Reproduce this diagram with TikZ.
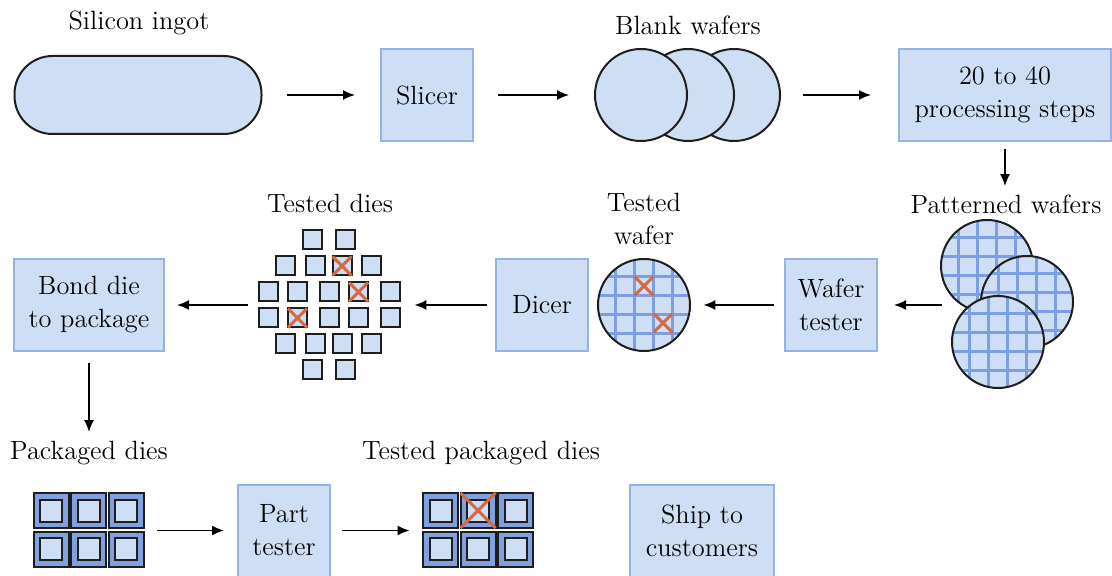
\documentclass[tikz,border=0pt]{standalone}
\usetikzlibrary{arrows.meta}
\definecolor{lightfill}{RGB}{206,222,244}
\definecolor{boxline}{RGB}{150,178,228}
\definecolor{gridblue}{RGB}{125,158,226}
\definecolor{pkgblue}{RGB}{128,160,224}
\definecolor{xred}{RGB}{215,105,65}
\definecolor{edge}{RGB}{30,30,30}
\newcommand\gridwafer[2]{%
  \begin{scope}
    \clip (#1,#2) circle [radius=23pt];
    \fill[lightfill] (#1,#2) circle [radius=23pt];
    \foreach \o in {-28.5,-9.5,9.5,28.5}{
      \draw[gridline] (#1+\o,#2-50) -- (#1+\o,#2+50);
      \draw[gridline] (#1-50,#2+\o) -- (#1+50,#2+\o);
    }
  \end{scope}
  \draw[waferline] (#1,#2) circle [radius=23pt];
}
\begin{document}
\begin{tikzpicture}[x=0.5pt,y=-0.5pt,
  every node/.style={font=\fontsize{13.2}{16.5}\selectfont, align=center, inner sep=0pt},
  pbox/.style={draw=boxline, fill=lightfill, line width=1pt, minimum width=46pt, minimum height=46pt},
  grp/.style={draw=none, fill=none},
  conn/.style={line width=0.8pt, -{Latex[length=6pt,width=5pt]}},
  gridline/.style={draw=gridblue, line width=1.6pt},
  waferline/.style={draw=edge, line width=1pt},
  die/.style={draw=edge, fill=lightfill, line width=1pt},
  pkgout/.style={draw=edge, fill=pkgblue, line width=1pt},
  xmark/.style={draw=xred, line width=1.5pt}]
\useasboundingbox (0,0) rectangle (1112,576);

% ---------- Row 1 ----------
\node (l-ingot) at (139,23) {Silicon ingot};
\node[draw=edge, fill=lightfill, line width=1pt, rounded corners=19pt,
      minimum width=123.5pt, minimum height=39pt] (ingot) at (138,95) {};
\node[pbox] (slicer) at (427,95) {Slicer};

\node[grp, minimum width=92.5pt, minimum height=47pt] (blank) at (688,95) {};
\draw[waferline, fill=lightfill] (734,95) circle [radius=23pt];
\draw[waferline, fill=lightfill] (688,95) circle [radius=23pt];
\draw[waferline, fill=lightfill] (641,95) circle [radius=23pt];
\node (l-blank) at (688,25) {Blank wafers};

\node[pbox, minimum width=106pt] (proc) at (1005,95) {20 to 40\\processing steps};

% ---------- Row 2 ----------
\node (l-pat) at (1006,204) {Patterned wafers};
\node[grp, minimum width=65.5pt, minimum height=83.5pt] (pat) at (1007.5,305) {};
\gridwafer{987}{266}
\gridwafer{1027}{302}
\gridwafer{998}{342}

\node[pbox] (wtest) at (831,305) {Wafer\\tester};

\node (l-twafer) at (644,219) {Tested\\wafer};
\node[grp, circle, minimum size=46pt] (twafer) at (644,305) {};
\gridwafer{644}{305}
\draw[xmark] (634.5,276.5) -- (653.5,295.5) (653.5,276.5) -- (634.5,295.5);
\draw[xmark] (653.5,313.5) -- (672.5,332.5) (672.5,313.5) -- (653.5,332.5);

\node[pbox] (dicer) at (542,305) {Dicer};

\node (l-tdies) at (330,203) {Tested dies};
\node[grp, minimum width=71pt, minimum height=75pt] (tdies) at (329,305) {};
\foreach \dx in {-17,16.5}{
  \draw[die] (329+\dx-9.5,240-9.5) rectangle ++(19,19);
  \draw[die] (329+\dx-9.5,370-9.5) rectangle ++(19,19);
}
\foreach \dx in {-43.5,-14,13,42.5}{
  \draw[die] (329+\dx-9.5,266-9.5) rectangle ++(19,19);
  \draw[die] (329+\dx-9.5,344-9.5) rectangle ++(19,19);
}
\foreach \dx in {-61,-31.5,0.5,29.5,61.5}{
  \draw[die] (329+\dx-9.5,292-9.5) rectangle ++(19,19);
  \draw[die] (329+\dx-9.5,318-9.5) rectangle ++(19,19);
}
\draw[xmark] (332.5,256.5) -- (351.5,275.5) (351.5,256.5) -- (332.5,275.5);
\draw[xmark] (349,282.5) -- (368,301.5) (368,282.5) -- (349,301.5);
\draw[xmark] (288,308.5) -- (307,327.5) (307,308.5) -- (288,327.5);

\node[pbox, minimum width=75pt] (bond) at (89,305) {Bond die\\to package};

% ---------- Row 3 ----------
\node (l-pack) at (89,453) {Packaged dies};
\node[grp, minimum width=55.5pt, minimum height=37pt] (pack) at (88.5,530.5) {};
\foreach \cx in {-37.5,0,37.5}{
  \foreach \cy in {-19.25,19.25}{
    \draw[pkgout] (88.5+\cx-17.5,530+\cy-17.5) rectangle ++(35,35);
    \draw[die] (88.5+\cx-11,530+\cy-11) rectangle ++(22,22);
  }
}

\node[pbox] (ptest) at (284,530.5) {Part\\tester};

\node (l-tpack) at (481,453) {Tested packaged dies};
\node[grp, minimum width=55pt, minimum height=37pt] (tpack) at (478,530.5) {};
\foreach \cx in {-37.5,0,37.5}{
  \foreach \cy in {-19.25,19.25}{
    \draw[pkgout] (478+\cx-17.5,530+\cy-17.5) rectangle ++(35,35);
    \draw[die] (478+\cx-11,530+\cy-11) rectangle ++(22,22);
  }
}
\draw[xmark] (460.5,493) -- (495.5,528) (495.5,493) -- (460.5,528);

\node[pbox, minimum width=72pt] (ship) at (702,530.5) {Ship to\\customers};

% ---------- Connectors ----------
\draw[conn, shorten <=12pt, shorten >=12.5pt] (ingot.east) -- (slicer.west);
\draw[conn, shorten <=12pt, shorten >=13pt] (slicer.east) -- (blank.west);
\draw[conn, shorten <=11pt, shorten >=13.5pt] (blank.east) -- (proc.west);
\draw[conn, shorten <=3.5pt, shorten >=17.5pt] (proc.south) -- (proc.south |- pat.north);
\draw[conn, shorten <=0pt, shorten >=8pt] (pat.west) -- (wtest.east);
\draw[conn, shorten <=5pt, shorten >=6.5pt] (wtest.west) -- (twafer.east);
\draw[conn, shorten <=4pt, shorten >=7pt] (dicer.west) -- (tdies.east);
\draw[conn, shorten <=5pt, shorten >=6pt] (tdies.west) -- (bond.east);
\draw[conn, shorten <=5.5pt, shorten >=30.5pt] (bond.south) -- (bond.south |- pack.north);
\draw[conn, shorten <=6.5pt, shorten >=6.5pt] (pack.east) -- (ptest.west);
\draw[conn, shorten <=5.5pt, shorten >=6.5pt] (ptest.east) -- (tpack.west);
\end{tikzpicture}
\end{document}
